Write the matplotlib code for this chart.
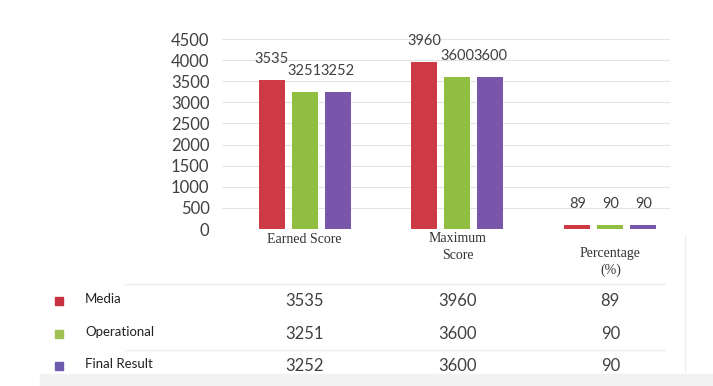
import matplotlib
matplotlib.use("Agg")
import matplotlib.pyplot as plt
import matplotlib.transforms as mtransforms
from matplotlib.patches import Rectangle
import numpy as np

categories = ["Earned Score", "Maximum\nScore", "Percentage\n(%)"]
series_names = ["Media", "Operational", "Final Result"]
media = [3535, 3960, 89]
operational = [3251, 3600, 90]
final_result = [3252, 3600, 90]
yticks = [0, 500, 1000, 1500, 2000, 2500, 3000, 3500, 4000, 4500]

series = [media, operational, final_result]
bar_colors = ["#CE3A44", "#8FBE40", "#7A56AA"]
sq_colors = ["#C8313F", "#A2C154", "#6E5BB0"]

W, H = 713, 386
fig = plt.figure(figsize=(W / 100, H / 100), dpi=100)
fig.patch.set_facecolor("white")

def fx(px):
    return px / W

def fy(py):
    return 1 - py / H

ax = fig.add_axes([fx(222), fy(229), fx(670) - fx(222), (229 - 39) / H])
x = np.arange(len(categories))
width = 0.17
offsets = [-0.216, 0.0, 0.216]
for vals, off, col in zip(series, offsets, bar_colors):
    bars = ax.bar(x + off, vals, width=width, color=col, zorder=3)
    for b, v in zip(bars, vals):
        ax.annotate(str(v), (b.get_x() + b.get_width() / 2, b.get_height()),
                    xytext=(0, 10), textcoords="offset points",
                    ha="center", va="bottom", fontsize=10.5,
                    family="Lato", color="#404040")

ax.set_xlim(-0.54, 2.39)
ax.set_ylim(0, 4500)
ax.set_yticks(yticks)
ax.set_yticklabels([str(t) for t in yticks], family="Lato", fontsize=12, color="#404040")
ax.tick_params(axis="y", length=0, pad=9)
ax.tick_params(axis="x", length=0, labelbottom=False)
ax.grid(axis="y", color="#e4e4e4", lw=0.8, zorder=0)
for s in ax.spines.values():
    s.set_visible(False)

# category labels
cat_y = [-0.053, -0.095, -0.174]
tr = ax.get_xaxis_transform()
for xi, lab, yy in zip(x, categories, cat_y):
    ax.text(xi, yy, lab, transform=tr, ha="center", va="center",
            family="Liberation Serif", fontsize=10, color="#333333",
            linespacing=1.35)

# data table
btr = mtransforms.blended_transform_factory(ax.transData, fig.transFigure)
row_y = [301, 334, 366]
for name, vals, col, ry in zip(series_names, series, sq_colors, row_y):
    fig.patches.append(Rectangle((fx(55), fy(ry + 4)), fx(8), 8 / H,
                                 transform=fig.transFigure, color=col))
    fig.text(fx(85), fy(ry - 2), name, ha="left", va="center",
             family="Lato", fontsize=9.5, color="#222222")
    for xi, v in zip(x, vals):
        fig.text(xi, fy(ry), str(v), transform=btr, ha="center", va="center",
                 family="Lato", fontsize=12, color="#404040")

# faint table lines / frame
for ly in [284, 350]:
    fig.add_artist(plt.Line2D([fx(125), fx(665)], [fy(ly), fy(ly)],
                              transform=fig.transFigure, color="#ededed", lw=1))
fig.add_artist(plt.Line2D([fx(685), fx(685)], [fy(235), fy(372)],
                          transform=fig.transFigure, color="#eeeeee", lw=1))
fig.patches.append(Rectangle((fx(40), 0), 1 - fx(40), 12 / H,
                             transform=fig.transFigure, color="#f2f2f2"))

fig.savefig("out.png", dpi=100)
